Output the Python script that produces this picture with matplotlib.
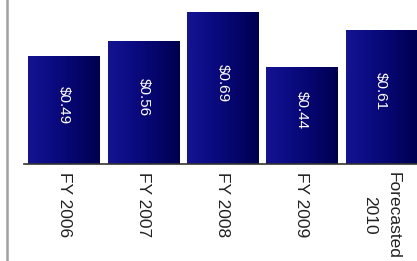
"""Earnings per share bar chart, FY 2006 to forecasted 2010."""
import numpy as np
import matplotlib
matplotlib.use('Agg')
import matplotlib.pyplot as plt
from matplotlib.colors import LinearSegmentedColormap
from matplotlib.lines import Line2D

categories = ['FY 2006', 'FY 2007', 'FY 2008', 'FY 2009', 'Forecasted\n2010']
values = [0.49, 0.56, 0.69, 0.44, 0.61]
value_labels = ['$0.49', '$0.56', '$0.69', '$0.44', '$0.61']

plt.rcParams['font.family'] = ['Liberation Sans', 'DejaVu Sans']

fig = plt.figure(figsize=(4.17, 2.61), dpi=100)
ax = fig.add_axes([24 / 417, 97 / 261, 1 - 24 / 417, 164 / 261])

x = np.arange(len(values))
bars = ax.bar(x, values, width=0.9, color='#0a0a78', zorder=2)

# horizontal gradient: lighter blue on the left, dark navy on the right
cmap = LinearSegmentedColormap.from_list(
    'navy', ['#141494', '#0b0b82', '#05056c', '#000050'])
grad = np.linspace(0, 1, 64).reshape(1, -1)
for b in bars:
    x0, w, h = b.get_x(), b.get_width(), b.get_height()
    im = ax.imshow(grad, cmap=cmap, aspect='auto', zorder=3,
                   extent=[x0, x0 + w, 0, h], origin='lower')
    im.set_clip_path(b)

for xi, v, lab in zip(x, values, value_labels):
    ax.text(xi, v / 2 + 0.025, lab, rotation=270, color='white',
            ha='center', va='center', fontsize=11, zorder=4)

ax.set_xlim(-0.505, 4.45)
ax.set_ylim(0, 164 / 220)
ax.set_xticks(x)
ax.set_xticklabels(categories, rotation=270, fontsize=12.5, color='#222222',
                   ha='center', va='top', linespacing=1.75)
ax.tick_params(axis='x', length=0, pad=6)
ax.set_yticks([])
for s in ['top', 'right', 'left']:
    ax.spines[s].set_visible(False)
ax.spines['bottom'].set_color('#333333')
ax.spines['bottom'].set_linewidth(1.2)
ax.spines['bottom'].set_zorder(5)

# grey frame edge on the left of the picture
fig.add_artist(Line2D([7 / 417, 7 / 417], [0, 1], color='#a0a0a0',
                      linewidth=1.8, transform=fig.transFigure))

fig.savefig('out.png', dpi=100)
